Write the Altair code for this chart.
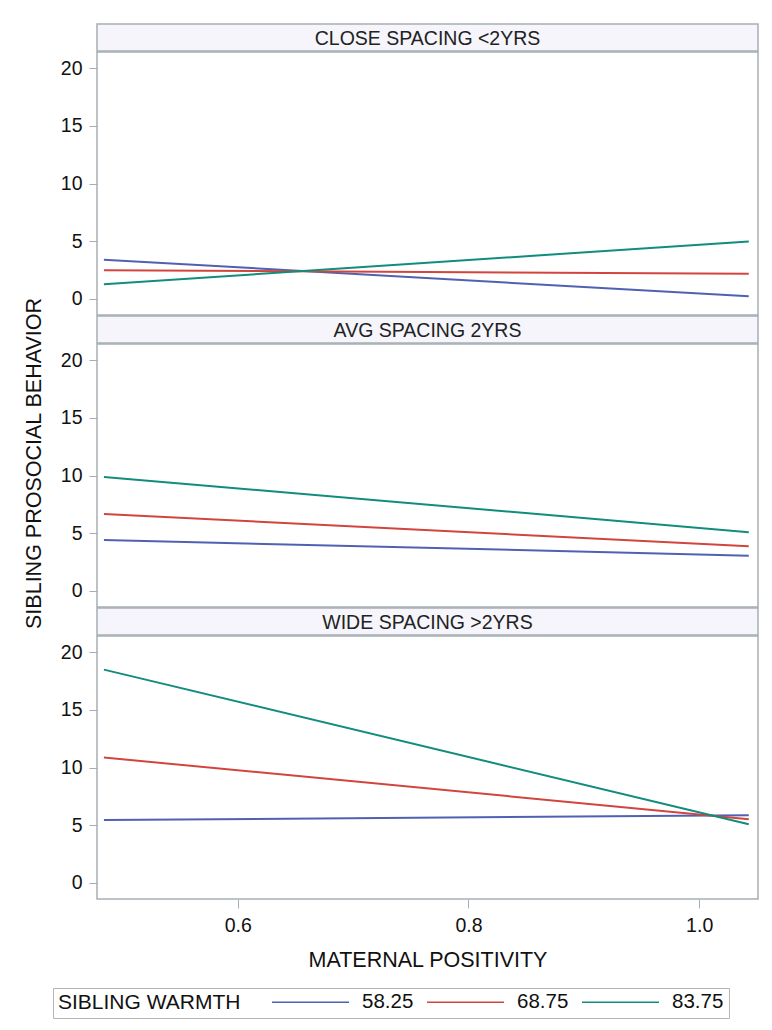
import altair as alt
import pandas as pd

# ---- data ----
panels = ["CLOSE SPACING <2YRS", "AVG SPACING 2YRS", "WIDE SPACING >2YRS"]
warmth = ["58.25", "68.75", "83.75"]
colors = ["#5060b2", "#d2453e", "#128c7d"]
x_ends = [0.484, 1.043]

close_58 = [3.38, 0.20]
close_68 = [2.46, 2.17]
close_83 = [1.25, 4.97]
avg_58 = [4.40, 3.04]
avg_68 = [6.66, 3.85]
avg_83 = [9.88, 5.07]
wide_58 = [5.43, 5.86]
wide_68 = [10.87, 5.51]
wide_83 = [18.50, 5.08]

y_ticks = [0, 5, 10, 15, 20]
x_ticks = [0.6, 0.8, 1.0]

series = {
    panels[0]: [close_58, close_68, close_83],
    panels[1]: [avg_58, avg_68, avg_83],
    panels[2]: [wide_58, wide_68, wide_83],
}

rows = []
for p in panels:
    for w, vals in zip(warmth, series[p]):
        for xv, yv in zip(x_ends, vals):
            rows.append({"panel": p, "warmth": w, "x": xv, "y": yv})
df = pd.DataFrame(rows)

FONT = "Liberation Sans, Arial, Helvetica, sans-serif"
W = 661
PH = 263
HH = 27
GRID = "#a7afb4"
TXT = "#111"

legend = alt.Legend(
    orient="none", legendX=-44, legendY=964, direction="horizontal",
    title="SIBLING WARMTH", titleOrient="left", titleFont=FONT, titleFontSize=21,
    titleFontWeight="normal", titleColor=TXT, titlePadding=30, titleLimit=400,
    titleAnchor="middle", titleBaseline="middle",
    labelFont=FONT, labelFontSize=20.5, labelColor=TXT, labelOffset=12,
    labelLimit=200,
    columnPadding=12, symbolType="stroke", symbolSize=5929, symbolStrokeWidth=1.5,
    clipHeight=18,
    strokeColor="#b5b5b5", fillColor="white", padding=5,
)


def header(title):
    return alt.Chart(pd.DataFrame({"t": [title]})).mark_text(
        font=FONT, fontSize=19.5, color="#222", baseline="middle", align="center"
    ).encode(
        text="t:N", x=alt.value(W / 2), y=alt.value(HH / 2 + 1)
    ).properties(
        width=W, height=HH,
        view=alt.ViewBackground(fill="#f5f5fb", stroke=GRID, strokeWidth=1.5),
    )


def plot(i):
    p = panels[i]
    if i == 2:
        xaxis = alt.Axis(
            values=x_ticks, format=".1f", title="MATERNAL POSITIVITY", grid=False,
            domain=False, tickColor=GRID, tickSize=9, labelPadding=8,
            labelFont=FONT, labelFontSize=19.5, labelColor=TXT,
            titleFont=FONT, titleFontSize=21.5, titleFontWeight="normal",
            titleColor=TXT, titlePadding=15,
        )
    else:
        xaxis = None
    yaxis = alt.Axis(
        values=y_ticks, grid=False, domain=False, tickColor=GRID, tickSize=8,
        labelPadding=7, labelFont=FONT, labelFontSize=19.5, labelColor=TXT,
        title="SIBLING PROSOCIAL BEHAVIOR" if i == 1 else None,
        titleFont=FONT, titleFontSize=21.5, titleFontWeight="normal",
        titleColor=TXT, titlePadding=15, titleY=119,
    )
    return alt.Chart(df[df.panel == p]).mark_line(strokeWidth=2).encode(
        x=alt.X("x:Q", scale=alt.Scale(domain=[0.478, 1.051], nice=False, zero=False), axis=xaxis),
        y=alt.Y("y:Q", scale=alt.Scale(domain=[-1.42, 21.42], nice=False, zero=False), axis=yaxis),
        color=alt.Color("warmth:N", scale=alt.Scale(domain=warmth, range=colors), legend=legend),
    ).properties(
        width=W, height=PH,
        view=alt.ViewBackground(fill="white", stroke=GRID, strokeWidth=1.5),
    )


cells = []
for i in range(3):
    cells.append(header(panels[i]))
    cells.append(plot(i))

chart = alt.vconcat(*cells, spacing=1, bounds="flush").resolve_scale(
    y="independent", x="independent"
).properties(
    padding={"left": 14, "top": 15, "right": 2, "bottom": 2}
).configure(background="white")

chart.save("out.html", embed_options={"renderer": "svg", "actions": False})
